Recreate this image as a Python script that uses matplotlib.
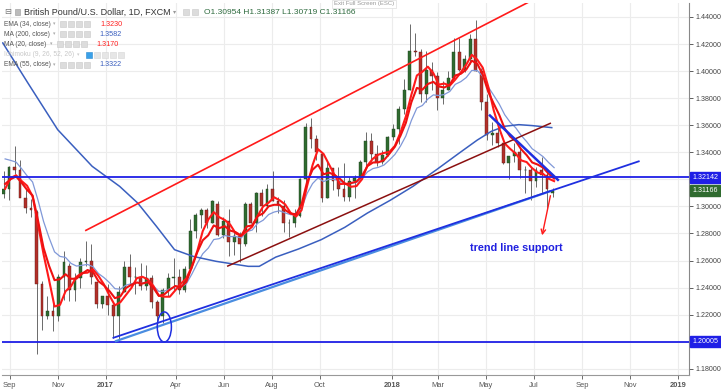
import matplotlib
matplotlib.use("Agg")
import matplotlib.pyplot as plt
import matplotlib.dates as mdates
from matplotlib.patches import Ellipse, Rectangle
import numpy as np
import pandas as pd

plt.rcParams['font.family'] = ['Liberation Sans', 'DejaVu Sans']

# ---------------- data (weekly OHLC) ----------------
week_start = pd.date_range("2016-08-22", periods=101, freq="7D")
opens = [1.3090, 1.3130, 1.3290, 1.3270, 1.3060, 1.2990, 1.2960, 1.2430, 1.2190, 1.2230,
         1.2190, 1.2480, 1.2560, 1.2380, 1.2470, 1.2590, 1.2600, 1.2440, 1.2275, 1.2340,
         1.2270, 1.2190, 1.2370, 1.2550, 1.2480, 1.2480, 1.2410, 1.2470, 1.2290, 1.2190,
         1.2380, 1.2470, 1.2480, 1.2380, 1.2540, 1.2820, 1.2940, 1.2970, 1.2880, 1.3020,
         1.2790, 1.2890, 1.2740, 1.2780, 1.2720, 1.3020, 1.2880, 1.3100, 1.3000, 1.3130,
         1.3040, 1.3000, 1.2880, 1.2880, 1.2930, 1.3200, 1.3590, 1.3500, 1.3390, 1.3060,
         1.3280, 1.3190, 1.3130, 1.3070, 1.3190, 1.3210, 1.3330, 1.3480, 1.3390, 1.3330,
         1.3380, 1.3510, 1.3570, 1.3720, 1.3860, 1.4150, 1.4140, 1.3830, 1.4010, 1.3960,
         1.3800, 1.3860, 1.3950, 1.4140, 1.4010, 1.4090, 1.4240, 1.4000, 1.3770, 1.3530,
         1.3540, 1.3470, 1.3320, 1.3370, 1.3400, 1.3270, 1.3270, 1.3190, 1.3270, 1.3230,
         1.30954]
highs = [1.3260, 1.3300, 1.3445, 1.3340, 1.3130, 1.3055, 1.2970, 1.2450, 1.2340, 1.2300,
         1.2500, 1.2670, 1.2580, 1.2510, 1.2620, 1.2745, 1.2720, 1.2440, 1.2340, 1.2430,
         1.2280, 1.2415, 1.2600, 1.2650, 1.2550, 1.2580, 1.2570, 1.2490, 1.2310, 1.2400,
         1.2510, 1.2615, 1.2540, 1.2560, 1.2905, 1.2950, 1.2990, 1.2990, 1.3050, 1.3040,
         1.2920, 1.2980, 1.2810, 1.2810, 1.3030, 1.3030, 1.3110, 1.3125, 1.3165, 1.3265,
         1.3070, 1.3050, 1.2910, 1.2980, 1.3210, 1.3615, 1.3655, 1.3530, 1.3390, 1.3340,
         1.3280, 1.3290, 1.3320, 1.3220, 1.3230, 1.3340, 1.3550, 1.3540, 1.3450, 1.3420,
         1.3520, 1.3610, 1.3740, 1.3940, 1.4345, 1.4280, 1.4160, 1.4145, 1.4070, 1.3990,
         1.3930, 1.4000, 1.4245, 1.4245, 1.4120, 1.4275, 1.4377, 1.4020, 1.3830, 1.3620,
         1.3620, 1.3470, 1.3370, 1.3470, 1.3440, 1.3300, 1.3290, 1.3290, 1.3365, 1.3260,
         1.31387]
lows = [1.3060, 1.3050, 1.3240, 1.3090, 1.2950, 1.2920, 1.1910, 1.2090, 1.2170, 1.2080,
        1.2150, 1.2310, 1.2300, 1.2300, 1.2400, 1.2560, 1.2430, 1.2250, 1.2250, 1.2200,
        1.2030, 1.2005, 1.2370, 1.2420, 1.2350, 1.2380, 1.2380, 1.2250, 1.2135, 1.2140,
        1.2340, 1.2380, 1.2350, 1.2370, 1.2520, 1.2770, 1.2840, 1.2840, 1.2880, 1.2780,
        1.2770, 1.2630, 1.2640, 1.2590, 1.2710, 1.2880, 1.2810, 1.2930, 1.2990, 1.3040,
        1.2950, 1.2810, 1.2775, 1.2850, 1.2920, 1.3150, 1.3430, 1.3340, 1.3030, 1.3060,
        1.3120, 1.3080, 1.3040, 1.3040, 1.3060, 1.3200, 1.3300, 1.3330, 1.3300, 1.3310,
        1.3370, 1.3490, 1.3460, 1.3680, 1.3860, 1.4110, 1.3770, 1.3770, 1.3860, 1.3710,
        1.3760, 1.3860, 1.3940, 1.4000, 1.3990, 1.4050, 1.4000, 1.3710, 1.3490, 1.3450,
        1.3440, 1.3310, 1.3200, 1.3330, 1.3210, 1.3100, 1.3050, 1.3140, 1.3100, 1.2970,
        1.30719]
closes = [1.3130, 1.3290, 1.3270, 1.3060, 1.2990, 1.2975, 1.2430, 1.2190, 1.2230, 1.2190,
          1.2480, 1.2590, 1.2380, 1.2470, 1.2590, 1.2600, 1.2480, 1.2275, 1.2340, 1.2270,
          1.2190, 1.2370, 1.2550, 1.2480, 1.2480, 1.2410, 1.2470, 1.2290, 1.2190, 1.2380,
          1.2470, 1.2480, 1.2380, 1.2540, 1.2820, 1.2940, 1.2970, 1.2880, 1.3040, 1.2790,
          1.2890, 1.2740, 1.2780, 1.2720, 1.3020, 1.2880, 1.3100, 1.3000, 1.3130, 1.3040,
          1.3010, 1.2880, 1.2880, 1.2930, 1.3200, 1.3590, 1.3500, 1.3400, 1.3060, 1.3280,
          1.3190, 1.3130, 1.3070, 1.3190, 1.3210, 1.3330, 1.3480, 1.3390, 1.3330, 1.3380,
          1.3510, 1.3570, 1.3720, 1.3860, 1.4150, 1.4140, 1.3830, 1.4010, 1.3960, 1.3800,
          1.3860, 1.3950, 1.4140, 1.4010, 1.4090, 1.4240, 1.4000, 1.3770, 1.3530, 1.3540,
          1.3470, 1.3320, 1.3370, 1.3400, 1.3270, 1.3270, 1.3190, 1.3270, 1.3230, 1.3130,
          1.31166]

ema34_seed = 1.318
ema55_seed = 1.340

ma200_dates = ["2016-08-23", "2016-09-24", "2016-11-01", "2016-12-15", "2017-01-19",
               "2017-02-11", "2017-03-07", "2017-03-30", "2017-04-23", "2017-05-22",
               "2017-07-02", "2017-07-16", "2017-08-06", "2017-09-04", "2017-10-03",
               "2017-11-02", "2017-12-01", "2017-12-30", "2018-01-28", "2018-02-27",
               "2018-03-28", "2018-04-20", "2018-05-08", "2018-05-25", "2018-06-12",
               "2018-06-29", "2018-07-24"]
ma200_values = [1.4208, 1.3912, 1.3567, 1.3296, 1.3148, 1.3025, 1.2852, 1.2680, 1.2630,
                1.2594, 1.2557, 1.2557, 1.2625, 1.2685, 1.2754, 1.2845, 1.2951, 1.3045,
                1.3148, 1.3271, 1.3394, 1.3490, 1.3555, 1.3592, 1.3604, 1.3597, 1.3582]

hline_levels = [1.32142, 1.20005]

# drawn trend lines: (start date, start price, end date, end price)
red_channel = ("2016-12-06", 1.2820, "2018-06-24", 1.4508)
maroon_channel = ("2017-06-05", 1.2557, "2018-07-23", 1.3616)
support_dark = ("2017-01-10", 1.2027, "2018-11-13", 1.3335)
support_light = ("2017-01-13", 1.2002, "2018-07-23", 1.3114)
down_line = ("2018-05-05", 1.3678, "2018-08-02", 1.3190)
arrow_from = ("2018-07-23", 1.3099)
arrow_to = ("2018-07-11", 1.2766)
ellipse_center = ("2017-03-17", 1.2109)
note_pos = ("2018-06-09", 1.2692)

tick_dates = ["2016-09-01", "2016-11-01", "2017-01-01", "2017-04-01", "2017-06-01",
              "2017-08-01", "2017-10-01", "2018-01-01", "2018-03-01", "2018-05-01",
              "2018-07-01", "2018-09-01", "2018-11-01", "2019-01-01"]
tick_labels = ["Sep", "Nov", "2017", "Apr", "Jun", "Aug", "Oct", "2018", "Mar", "May",
               "Jul", "Sep", "Nov", "2019"]
price_ticks = [1.18, 1.20, 1.22, 1.24, 1.26, 1.28, 1.30, 1.32, 1.34, 1.36, 1.38, 1.40, 1.42, 1.44]
hidden_price_labels = [1.20, 1.32]   # covered by the level boxes in the reference

# ---------------- figure ----------------
W, H = 721, 389
fig = plt.figure(figsize=(W / 100, H / 100), dpi=100)
fig.patch.set_facecolor("white")
ax = fig.add_axes([2 / W, 1 - 375 / H, (689 - 2) / W, (375 - 3) / H])

d2n = lambda s: mdates.date2num(pd.Timestamp(s))

o = np.array(opens); h = np.array(highs); l = np.array(lows); c = np.array(closes)
xs = mdates.date2num(week_start) + 2.0
up = c >= o

ax.vlines(xs, l, h, color="#6a6a6a", lw=0.7, zorder=3)
ax.bar(xs[up], (c - o)[up], bottom=o[up], width=3.6, color="#2f6b2f",
       edgecolor="#1f3f1f", lw=0.3, zorder=4)
ax.bar(xs[~up], (c - o)[~up], bottom=o[~up], width=3.6, color="#b3302a",
       edgecolor="#5a1a16", lw=0.3, zorder=4)

# moving averages
xc = mdates.date2num(week_start) + 4.0
ema34 = pd.Series([ema34_seed] + closes).ewm(span=6, adjust=False).mean().values[1:]
ema55 = pd.Series([ema55_seed] + closes).ewm(span=10, adjust=False).mean().values[1:]
ma20 = pd.Series(closes).rolling(4, min_periods=1).mean().values
ax.plot(xc, ema55, color="#8098d8", lw=0.9, zorder=5)
ax.plot([d2n(d) for d in ma200_dates], ma200_values, color="#3a5fbf", lw=1.1, zorder=5)
ax.plot(xc, ma20, color="#ff1a1a", lw=1.5, zorder=6)
ax.plot(xc, ema34, color="#ee1111", lw=1.5, zorder=6)

# horizontal levels
for lev in hline_levels:
    ax.axhline(lev, color="#1f1fe6", lw=1.3, zorder=7)

def seg(t, color, lw, z=8):
    ax.plot([d2n(t[0]), d2n(t[2])], [t[1], t[3]], color=color, lw=lw, zorder=z,
            solid_capstyle="butt")

seg(red_channel, "#ff1a1a", 1.2)
seg(maroon_channel, "#8b1010", 1.1)
seg(support_light, "#4a8de0", 1.6)
seg(support_dark, "#1f2fe0", 1.3)
seg(down_line, "#1f2fe0", 1.8)

ax.add_patch(Ellipse((d2n(ellipse_center[0]), ellipse_center[1]), width=18, height=0.0222,
                     fill=False, edgecolor="#1f2fe0", lw=1.1, zorder=9))

ax.annotate("", xy=(d2n(arrow_to[0]), arrow_to[1]), xytext=(d2n(arrow_from[0]), arrow_from[1]),
            arrowprops=dict(arrowstyle="->", color="#ff1a1a", lw=1.0, mutation_scale=8), zorder=9)
ax.text(d2n(note_pos[0]), note_pos[1], "trend line support", color="#2020e0", fontsize=7.8,
        fontweight="bold", ha="center", va="center", zorder=9)

# axes styling
ax.set_xlim(d2n("2016-08-22"), d2n("2019-01-15"))
ax.set_ylim(1.1754, 1.4503)
ax.set_yticks(price_ticks)
ax.set_yticklabels(["" if any(abs(p - q) < 1e-9 for q in hidden_price_labels) else f"{p:.5f}"
                    for p in price_ticks])
ax.yaxis.tick_right()
ax.set_xticks([d2n(d) for d in tick_dates])
ax.set_xticklabels(tick_labels)
for lab in ax.get_xticklabels():
    if lab.get_text().isdigit():
        lab.set_fontweight("bold")
        lab.set_color("#333333")
ax.tick_params(axis="y", labelsize=5.1, colors="#444444", length=3, pad=1.5, width=0.6)
ax.tick_params(axis="x", labelsize=5.4, colors="#555555", length=3, pad=2, width=0.6)
ax.grid(True, color="#ececec", lw=0.8, zorder=0)
ax.set_axisbelow(True)
for s in ["left", "top"]:
    ax.spines[s].set_visible(False)
ax.spines["right"].set_color("#888888")
ax.spines["bottom"].set_color("#999999")
ax.spines["right"].set_linewidth(0.8)
ax.spines["bottom"].set_linewidth(0.8)

# price boxes on the right scale
ytr = ax.get_yaxis_transform()
for lev, col in [(hline_levels[0], "#1f1fe6"), (closes[-1], "#2f6b2f"), (hline_levels[1], "#1f1fe6")]:
    ax.text(1.005, lev, f"{lev:.5f}", transform=ytr, color="white", fontsize=5.1,
            va="center", ha="left", zorder=20, clip_on=False,
            bbox=dict(boxstyle="square,pad=0.3", facecolor=col, edgecolor=col))

# ---------------- legend texts (TradingView header) ----------------
def ft(x, y, s, **kw):
    fig.text(x / W, 1 - y / H, s, va="center", **kw)

def box(x, y, w=6, hgt=6, fc="#dcdcdc", ec="#c8c8c8"):
    fig.patches.append(Rectangle((x / W, 1 - (y + hgt / 2) / H), w / W, hgt / H,
                                 transform=fig.transFigure, facecolor=fc, edgecolor=ec,
                                 lw=0.4, zorder=30))

ft(4, 12, "⊟", fontsize=6.0, color="#777777", family=["DejaVu Sans"])
box(15, 12, 5, 6, fc="#bbbbbb", ec="#999999")
ft(24, 12, "British Pound/U.S. Dollar, 1D, FXCM", fontsize=6.5, color="#333333")
ft(173, 12, "▾", fontsize=4.5, color="#999999", family=["DejaVu Sans"])
box(183, 12); box(192, 12)
ft(204, 12, "O1.30954 H1.31387 L1.30719 C1.31166", fontsize=6.0, color="#2f6b3f")

rows = [(24, "EMA (34, close)", "1.3230", "#ff2020", 60, 100),
        (34, "MA (200, close)", "1.3582", "#3a5fbf", 60, 99),
        (44, "MA (20, close)", "1.3170", "#ff2020", 57, 96),
        (65, "EMA (55, close)", "1.3322", "#3a5fbf", 60, 99)]
for y, name, val, col, bx, vx in rows:
    ft(4, y, name, fontsize=4.8, color="#555555")
    ft(bx - 7, y, "▾", fontsize=3.5, color="#aaaaaa", family=["DejaVu Sans"])
    for k in range(4):
        box(bx + k * 8, y)
    ft(vx, y, val, fontsize=5.2, color=col)
ft(4, 55, "Ichimoku (9, 26, 52, 26)", fontsize=4.8, color="#c8c8c8")
ft(77, 55, "▾", fontsize=3.5, color="#cccccc", family=["DejaVu Sans"])
box(86, 55, fc="#3aa0e8", ec="#2a8ad0")
for k in range(1, 5):
    box(86 + k * 8, 55, fc="#e6e6e6", ec="#d6d6d6")

# exit full screen tag
fig.text(364 / W, 1 - 4 / H, "Exit Full Screen (ESC)", fontsize=4.3, color="#999999",
         ha="center", va="center",
         bbox=dict(boxstyle="square,pad=0.3", facecolor="white", edgecolor="#dddddd", lw=0.5))

fig.savefig("out.png", dpi=100)
